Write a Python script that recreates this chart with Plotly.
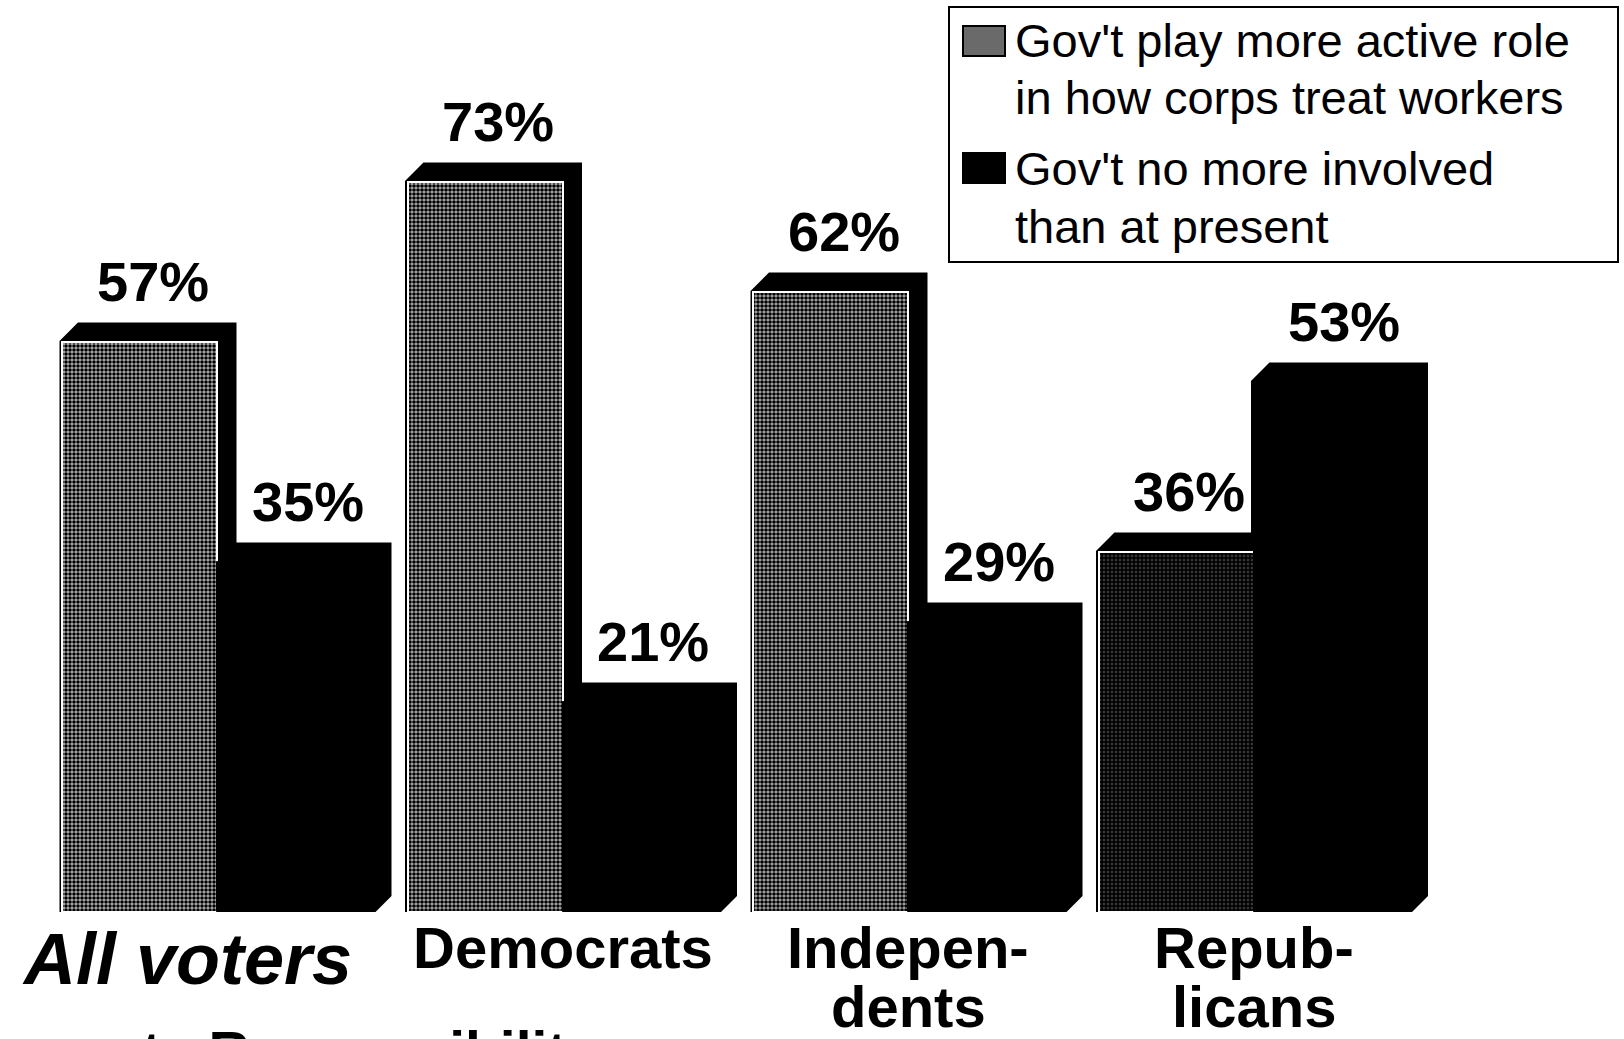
import plotly.graph_objects as go

# ---------------- data ----------------
categories = ["All voters", "Democrats", "Indepen-<br>dents", "Repub-<br>licans"]
more_active = [57, 73, 62, 36]
no_more = [35, 21, 29, 53]
legend_lines = [
    ["Gov't play more active role", "in how corps treat workers"],
    ["Gov't no more involved", "than at present"],
]
bottom_text = "t Responsibility"

# ---------------- geometry / style ----------------
W, H = 1624, 1039
PLOT_BOTTOM = 912          # px of the baseline from top
PXX = 345.5                # px per category unit
PXY = 10.0                 # px per percentage point
X0 = -217 / PXX
BW = 155 / PXX             # bar width in x units
DX = 17 / PXX              # 3D depth in x units
DY = 17 / PXY              # 3D depth in y units
FONT = "Liberation Sans, Arial, sans-serif"

gray_bg = ["#b4b4b4", "#b0b0b0", "#acacac", "#505050"]
gray_sol = [0.6, 0.62, 0.62, 0.78]

idx = list(range(len(categories)))
gray_x = [i - BW / 2 for i in idx]
black_x = [i + BW / 2 for i in idx]

fig = go.Figure()

fig.add_trace(go.Bar(
    x=gray_x, y=more_active, width=BW, name=" ".join(legend_lines[0]),
    marker=dict(
        color="#8a8a8a",
        pattern=dict(shape=".", fgcolor="#000000", bgcolor=gray_bg,
                     size=4, solidity=gray_sol, fillmode="replace"),
        line=dict(color="white", width=2),
    ),
    showlegend=False, hoverinfo="skip",
))
fig.add_trace(go.Bar(
    x=black_x, y=no_more, width=BW, name=" ".join(legend_lines[1]),
    marker=dict(color="#000000", line=dict(color="#000000", width=1)),
    showlegend=False, hoverinfo="skip",
))

shapes = []
annotations = []

def depth_path(xc, v):
    xl, xr = xc - BW / 2, xc + BW / 2
    return (f"M{xl},0 L{xl},{v} L{xl + DX},{v + DY} L{xr + DX},{v + DY} "
            f"L{xr + DX},{DY} L{xr},0 Z")

for xs, vals in ((gray_x, more_active), (black_x, no_more)):
    for xc, v in zip(xs, vals):
        shapes.append(dict(type="path", path=depth_path(xc, v), xref="x", yref="y",
                           fillcolor="#000000", line=dict(color="#000000", width=5),
                           layer="below"))
        annotations.append(dict(x=xc, y=v, xref="x", yref="y", text=f"{v}%",
                                showarrow=False, xanchor="center", yanchor="bottom",
                                xshift=13, yshift=27,
                                font=dict(family=FONT, size=56, color="#000000", weight="bold")))

# category labels
for i, cat in zip(idx, categories):
    lines = cat.split("<br>")
    for k, line in enumerate(lines):
        if i == 0:
            f = dict(family=FONT, size=72, color="#000000", weight="bold", style="italic")
            ys, xs_ = -5, -30
        else:
            f = dict(family=FONT, size=58, color="#000000", weight="bold")
            ys, xs_ = -1 - 59 * k, 0
        annotations.append(dict(x=i, y=0, xref="x", yref="y", text=line, showarrow=False,
                                xanchor="center", yanchor="top", xshift=xs_, yshift=ys,
                                font=f))

# legend (manual)
def py(p):
    return (PLOT_BOTTOM - p) / PLOT_BOTTOM

def px(p):
    return p / W

shapes.append(dict(type="rect", xref="paper", yref="paper",
                   x0=px(949), x1=px(1618), y0=py(262), y1=py(7),
                   line=dict(color="#000000", width=2), fillcolor="white", layer="above"))
swatch_fill = ["#6a6a6a", "#000000"]
line_centers = [[41, 98], [168, 226]]
for s in range(2):
    c = line_centers[s][0]
    shapes.append(dict(type="rect", xref="paper", yref="paper",
                       x0=px(963), x1=px(1005), y0=py(c + 15), y1=py(c - 15),
                       line=dict(color="#000000", width=2), fillcolor=swatch_fill[s],
                       layer="above"))
    for k, t in enumerate(legend_lines[s]):
        annotations.append(dict(x=px(1013), y=py(line_centers[s][k]), xref="paper", yref="paper",
                                text=t, showarrow=False, xanchor="left", yanchor="middle",
                                font=dict(family=FONT, size=47, color="#000000")))

# cut-off text at the bottom edge (as in the reference)
annotations.append(dict(x=px(140), y=py(1018), xref="paper", yref="paper",
                        text=bottom_text.replace(" ", "\u00a0\u00a0\u00a0", 1),
                        showarrow=False, xanchor="left", yanchor="top",
                        font=dict(family=FONT, size=57, color="#000000", weight="bold")))

fig.update_layout(
    width=W, height=H,
    margin=dict(l=0, r=0, t=0, b=H - PLOT_BOTTOM, pad=0),
    paper_bgcolor="white", plot_bgcolor="white",
    barmode="overlay", bargap=0,
    showlegend=False,
    shapes=shapes, annotations=annotations,
    xaxis=dict(range=[X0, X0 + W / PXX], showgrid=False, zeroline=False,
               showticklabels=False, showline=False, fixedrange=True),
    yaxis=dict(range=[0, PLOT_BOTTOM / PXY], showgrid=False, zeroline=False,
               showticklabels=False, showline=False, fixedrange=True),
    font=dict(family=FONT, color="#000000"),
)

fig.write_html("out.html")
